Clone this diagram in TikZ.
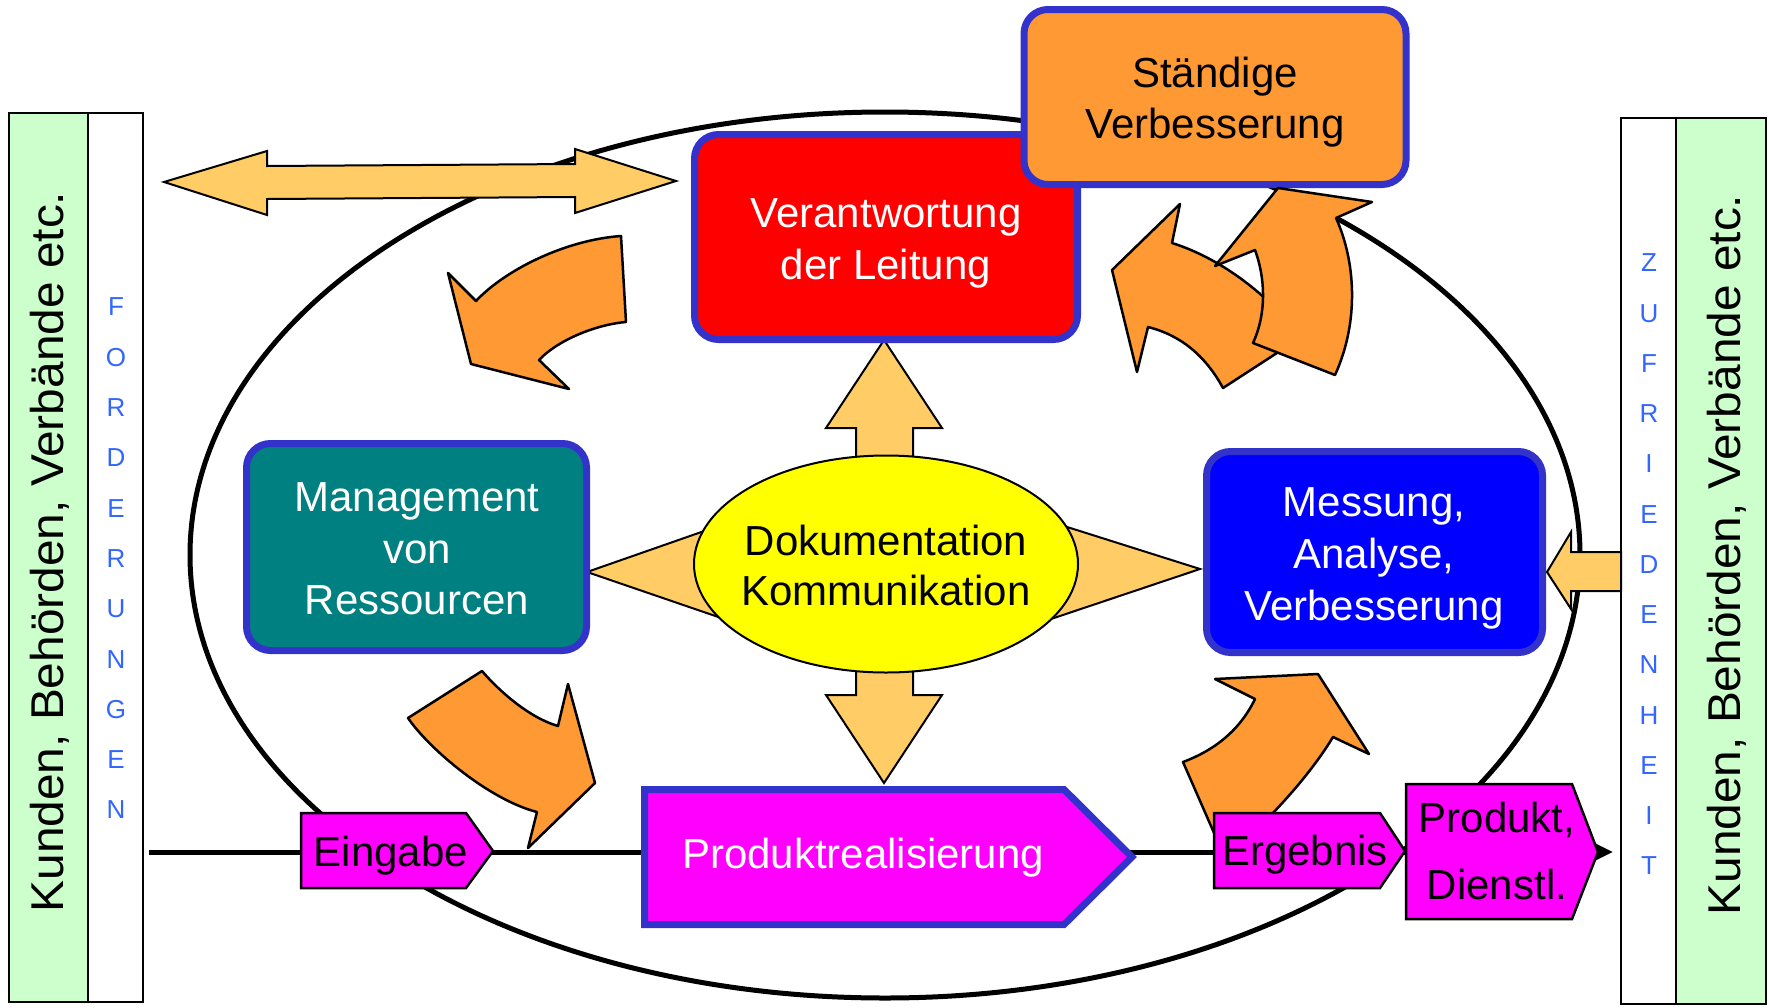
\documentclass[tikz,border=0pt]{standalone}
\usepackage{graphicx}
\usepackage{fontspec}
\setmainfont{Liberation Sans}
\usetikzlibrary{arrows.meta,shapes.geometric}
\definecolor{bandgreen}{HTML}{CCFFCC}
\definecolor{arroworange}{HTML}{FF9933}
\definecolor{lightorange}{HTML}{FFCC66}
\definecolor{frameblue}{HTML}{3333CC}
\definecolor{letterblue}{HTML}{3366FF}
\definecolor{tealfill}{HTML}{008080}
\definecolor{pinkfill}{HTML}{FF00FF}
\definecolor{bluefill}{HTML}{0000FF}
\definecolor{redfill}{HTML}{FF0000}
\definecolor{yellowfill}{HTML}{FFFF00}
\begin{document}
\begin{tikzpicture}[x=1pt,y=-1pt,
  boxframe/.style={draw=frameblue, line width=7pt, rounded corners=24pt, inner sep=0pt},
  boxtext/.style={align=center, inner sep=0pt, font=\fontsize{42}{52}\selectfont},
  curvearrow/.style={draw=black, fill=arroworange, line width=2.5pt, line join=round},
  blockarrow/.style={draw=black, fill=lightorange, line width=2pt, line join=miter},
  tagshape/.style={draw=black, fill=pinkfill, line width=2.5pt},
  tagtext/.style={inner sep=0pt, anchor=base, font=\fontsize{42}{52}\selectfont},
  band/.style={draw=black, line width=2pt},
  vletter/.style={text=letterblue, font=\fontsize{26}{26}\selectfont, inner sep=0pt},
  sidetext/.style={rotate=90, inner sep=0pt, font=\fontsize{46}{46}\selectfont}
]
\useasboundingbox (0,0) rectangle (1769,1007);
\fill[white] (0,0) rectangle (1769,1007);

% side bands
\draw[band, fill=bandgreen] (9,113) rectangle (88,1002);
\draw[band, fill=white] (88,113) rectangle (143,1002);
\draw[band, fill=white] (1621,118) rectangle (1676,1004);
\draw[band, fill=bandgreen] (1676,118) rectangle (1766,1004);
\node[sidetext] (kundenL) at (50,552) {\scalebox{1.04}[1]{Kunden, Behörden, Verbände etc.}};
\node[sidetext] (kundenR) at (1727,555) {\scalebox{1.04}[1]{Kunden, Behörden, Verbände etc.}};
\foreach \ch [count=\i from 0] in {F,O,R,D,E,R,U,N,G,E,N}
  \node[vletter] (ford\i) at (116,{307+50.3*\i}) {\ch};
\foreach \ch [count=\i from 0] in {Z,U,F,R,I,E,D,E,N,H,E,I,T}
  \node[vletter] (zuf\i) at (1649,{263+50.25*\i}) {\ch};

% big ellipse
\draw[line width=5pt] (885,555) ellipse [x radius=695pt, y radius=443pt];

% process line
\coordinate (linestart) at (149,852);
\coordinate (lineend) at (1613,852);
\draw[line width=5pt, -{Triangle[length=22pt,width=20pt]}] (linestart) -- (lineend);

% double arrow top left
\filldraw[blockarrow] (164,182) -- (267,151) -- (267,166) -- (575,164) -- (575,149) -- (676,181)
  -- (575,213) -- (575,197) -- (267,199) -- (267,215) -- cycle;

% block arrows around the centre
\filldraw[blockarrow] (884,340) -- (942,428) -- (913,428) -- (913,480) -- (856,480) -- (856,428) -- (826,428) -- cycle;
\filldraw[blockarrow] (884,783) -- (942,695) -- (913,695) -- (913,650) -- (856,650) -- (856,695) -- (826,695) -- cycle;
\filldraw[blockarrow] (587,572) -- (730,522) -- (730,621) -- cycle;
\filldraw[blockarrow] (1200,569) -- (1045,520) -- (1045,621) -- cycle;

% centre ellipse
\node[draw, ellipse, fill=yellowfill, line width=2pt, minimum width=384pt, minimum height=217pt, inner sep=0pt] (dokushape) at (886,564) {};
\node[boxtext, font=\fontsize{42}{50}\selectfont] (doku) at (886,565) {Dokumentation\\Kommunikation};

% boxes
\node[boxframe, fill=redfill, minimum width=383pt, minimum height=205pt] (leitungbox) at (886,237) {};
\node[boxtext, text=white] (leitung) at (886,243) {Verantwortung\\der Leitung};

\node[boxframe, fill=arroworange, minimum width=382pt, minimum height=175pt] (verbbox) at (1215,97) {};
\node[boxtext, font=\fontsize{42}{51}\selectfont] (verb) at (1215,102) {Ständige\\Verbesserung};

\node[boxframe, fill=tealfill, minimum width=340pt, minimum height=207pt] (resbox) at (416.5,547) {};
\node[boxtext, text=white, font=\fontsize{42}{51.5}\selectfont] (res) at (417,549) {Management\\von\\Ressourcen};

\node[boxframe, fill=bluefill, minimum width=336pt, minimum height=201pt] (messbox) at (1374.5,552) {};
\node[boxtext, text=white] (mess) at (1374,558) {Messung,\\Analyse,\\Verbesserung};

% small arrow from the right band
\filldraw[blockarrow] (1547,572) -- (1571,532) -- (1571,552) -- (1621,552) -- (1621,591) -- (1571,591) -- (1571,609) -- cycle;

% curved orange arrows
\filldraw[curvearrow] (621,236) -- (626,322) .. controls (600,324) and (560,338) .. (539,360) -- (569,389) -- (471,364)
  -- (448,273) -- (476,301) .. controls (505,270) and (565,240) .. (621,236) -- cycle;
\filldraw[curvearrow] (408,718) -- (482,671) .. controls (500,692) and (530,718) .. (558,726) -- (568,684) -- (595,783)
  -- (528,848) -- (537,812) .. controls (490,800) and (430,750) .. (408,718) -- cycle;
\filldraw[curvearrow] (1183,762) .. controls (1215,750) and (1240,730) .. (1255,699) -- (1215,679) -- (1318,674)
  -- (1369,754) -- (1333,737) .. controls (1310,775) and (1270,820) .. (1225,858) -- cycle;
\filldraw[curvearrow] (1180,204) -- (1172,243) .. controls (1220,258) and (1270,295) .. (1300,338) -- (1223,388)
  .. controls (1205,355) and (1180,335) .. (1148,327) -- (1137,372) -- (1112,270) -- cycle;
\filldraw[curvearrow] (1278,188) -- (1372,202) -- (1336,218) .. controls (1355,260) and (1360,320) .. (1335,375)
  -- (1253,343) .. controls (1266,315) and (1266,280) .. (1255,250) -- (1215,266) -- cycle;

% process shapes
\draw[draw=frameblue, fill=pinkfill, line width=7pt] (644.5,789.5) -- (1064,789.5) -- (1132,857) -- (1064,924.5) -- (644.5,924.5) -- cycle;
\node[tagtext, text=white] (prodreal) at (863,868) {Produktrealisierung};

\draw[tagshape] (301,813) -- (466,813) -- (493,851) -- (466,888) -- (301,888) -- cycle;
\node[tagtext] (eingabe) at (391,866) {Eingabe};

\draw[tagshape] (1214,813) -- (1380,813) -- (1405,851) -- (1380,888) -- (1214,888) -- cycle;
\node[tagtext] (ergebnis) at (1305,865) {Ergebnis};

\draw[tagshape] (1406,784) -- (1572,784) -- (1598,852) -- (1572,919) -- (1406,919) -- cycle;
\node[boxtext, font=\fontsize{42}{67}\selectfont] (produkt) at (1497,851) {Produkt,\\Dienstl.};
\end{tikzpicture}
\end{document}
